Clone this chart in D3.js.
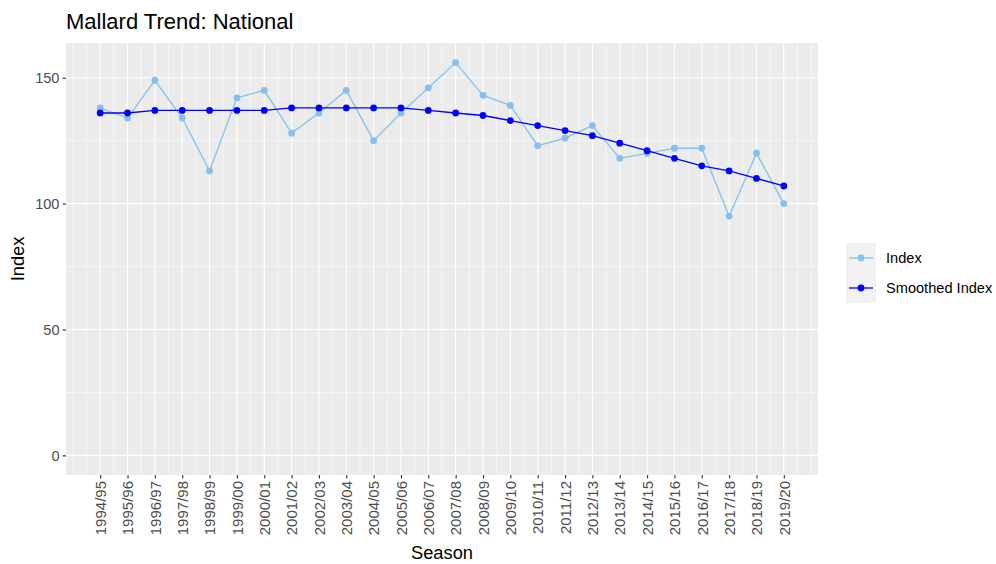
<!DOCTYPE html>
<html>
<head>
<meta charset="utf-8">
<script src="https://cdn.jsdelivr.net/npm/d3@7"></script>
<style>
  body { margin: 0; background: #fff; }
  text { font-family: "Liberation Sans", Arial, sans-serif; }
</style>
</head>
<body>
<div id="main"></div>
<script>
// season labels and the two series
const seasons = ["1994/95", "1995/96", "1996/97", "1997/98", "1998/99", "1999/00", "2000/01",
  "2001/02", "2002/03", "2003/04", "2004/05", "2005/06", "2006/07", "2007/08", "2008/09",
  "2009/10", "2010/11", "2011/12", "2012/13", "2013/14", "2014/15", "2015/16", "2016/17",
  "2017/18", "2018/19", "2019/20"];
const indexValues = [138, 134, 149, 134, 113, 142, 145, 128, 136, 145, 125, 136, 146, 156, 143,
  139, 123, 126, 131, 118, 120, 122, 122, 95, 120, 100];
const smoothedValues = [136, 136, 137, 137, 137, 137, 137, 138, 138, 138, 138, 138, 137, 136, 135,
  133, 131, 129, 127, 124, 121, 118, 115, 113, 110, 107];
const yTicks = [0, 50, 100, 150];
const seriesNames = ["Index", "Smoothed Index"];

const width = 996;
const height = 564;
const margin = { top: 43, right: 178, bottom: 89, left: 66 };
const lightBlue = "#85c1ec";
const darkBlue = "#0000ff";

const svg = d3.select("#main")
  .append("svg")
  .attr("width", width)
  .attr("height", height);

const n = seasons.length;
const xExp = (n - 1) * 0.05;
const x = d3.scaleLinear()
  .domain([-xExp, n - 1 + xExp])
  .range([margin.left, width - margin.right]);

const yMax = d3.max(indexValues.concat(smoothedValues));
const yExp = yMax * 0.05;
const y = d3.scaleLinear()
  .domain([-yExp, yMax + yExp])
  .range([height - margin.bottom, margin.top]);

// panel
svg.append("rect")
  .attr("x", margin.left)
  .attr("y", margin.top)
  .attr("width", width - margin.left - margin.right)
  .attr("height", height - margin.top - margin.bottom)
  .attr("fill", "#ebebeb");

const grid = svg.append("g");

// minor grid
const xMinor = d3.range(-2, 2 * n + 1).map(k => k / 2).filter(v => !Number.isInteger(v) || v < 0 || v > n - 1);
grid.selectAll(".xminor")
  .data(xMinor.filter(v => x(v) > margin.left && x(v) < width - margin.right))
  .join("line")
  .attr("x1", d => x(d)).attr("x2", d => x(d))
  .attr("y1", margin.top).attr("y2", height - margin.bottom)
  .attr("stroke", "#fff").attr("stroke-width", 0.55);

grid.selectAll(".yminor")
  .data([25, 75, 125])
  .join("line")
  .attr("x1", margin.left).attr("x2", width - margin.right)
  .attr("y1", d => y(d)).attr("y2", d => y(d))
  .attr("stroke", "#fff").attr("stroke-width", 0.55);

// major grid
grid.selectAll(".xmajor")
  .data(d3.range(n))
  .join("line")
  .attr("x1", d => x(d)).attr("x2", d => x(d))
  .attr("y1", margin.top).attr("y2", height - margin.bottom)
  .attr("stroke", "#fff").attr("stroke-width", 1.1);

grid.selectAll(".ymajor")
  .data(yTicks)
  .join("line")
  .attr("x1", margin.left).attr("x2", width - margin.right)
  .attr("y1", d => y(d)).attr("y2", d => y(d))
  .attr("stroke", "#fff").attr("stroke-width", 1.1);

// axes
const xAxis = svg.append("g")
  .attr("transform", "translate(0," + (height - margin.bottom) + ")")
  .call(d3.axisBottom(x)
    .tickValues(d3.range(n))
    .tickFormat(i => seasons[i])
    .tickSize(3.5)
    .tickPadding(3));
xAxis.select(".domain").remove();
xAxis.selectAll("line").attr("stroke", "#333").attr("stroke-width", 1.1);
xAxis.selectAll("text")
  .attr("transform", "rotate(-90)")
  .attr("text-anchor", "end")
  .attr("x", -6)
  .attr("y", 0)
  .attr("dy", "0.35em")
  .attr("fill", "#4d4d4d")
  .style("font-size", "15px");

const yAxis = svg.append("g")
  .attr("transform", "translate(" + margin.left + ",0)")
  .call(d3.axisLeft(y)
    .tickValues(yTicks)
    .tickSize(3.5)
    .tickPadding(3));
yAxis.select(".domain").remove();
yAxis.selectAll("line").attr("stroke", "#333").attr("stroke-width", 1.1);
yAxis.selectAll("text")
  .attr("fill", "#4d4d4d")
  .style("font-size", "14.6px");

// series
const line = d3.line()
  .x((d, i) => x(i))
  .y(d => y(d));

const series = [
  { name: seriesNames[0], values: indexValues, color: lightBlue },
  { name: seriesNames[1], values: smoothedValues, color: darkBlue }
];

series.forEach(s => {
  svg.append("path")
    .datum(s.values)
    .attr("fill", "none")
    .attr("stroke", s.color)
    .attr("stroke-width", 1.3)
    .attr("d", line);
  svg.append("g")
    .selectAll("circle")
    .data(s.values)
    .join("circle")
    .attr("cx", (d, i) => x(i))
    .attr("cy", d => y(d))
    .attr("r", 3.4)
    .attr("fill", s.color);
});

// titles
svg.append("text")
  .attr("x", margin.left)
  .attr("y", 29)
  .text("Mallard Trend: National")
  .style("font-size", "22px")
  .attr("fill", "#000");

svg.append("text")
  .attr("x", (margin.left + width - margin.right) / 2)
  .attr("y", 559)
  .attr("text-anchor", "middle")
  .text("Season")
  .style("font-size", "18.3px");

svg.append("text")
  .attr("transform", "translate(24," + ((margin.top + height - margin.bottom) / 2) + ") rotate(-90)")
  .attr("text-anchor", "middle")
  .text("Index")
  .style("font-size", "18.3px");

// legend
const legend = svg.append("g")
  .attr("transform", "translate(846,243)");

legend.selectAll("g")
  .data(series)
  .join("g")
  .attr("transform", (d, i) => "translate(0," + (i * 30) + ")")
  .each(function(d) {
    const g = d3.select(this);
    g.append("rect")
      .attr("width", 30).attr("height", 30)
      .attr("fill", "#f2f2f2");
    g.append("line")
      .attr("x1", 3).attr("x2", 27)
      .attr("y1", 15).attr("y2", 15)
      .attr("stroke", d.color).attr("stroke-width", 1.3);
    g.append("circle")
      .attr("cx", 15).attr("cy", 15).attr("r", 3.4)
      .attr("fill", d.color);
    g.append("text")
      .attr("x", 40).attr("y", 15)
      .attr("dy", "0.35em")
      .text(d.name)
      .style("font-size", "14.6px");
  });
</script>
</body>
</html>
